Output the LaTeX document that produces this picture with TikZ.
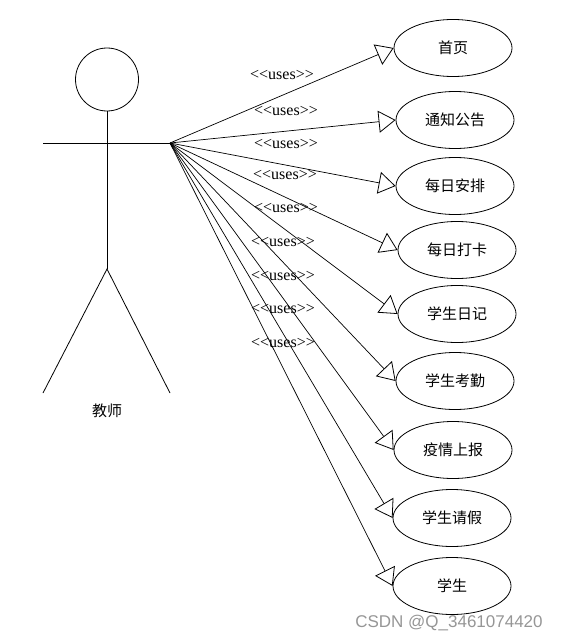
\documentclass[tikz,border=0pt]{standalone}
\usepackage{fontspec}
\setmainfont{Liberation Serif}
\newfontfamily\cjk{Noto Sans CJK SC}
\newfontfamily\wmfont{Liberation Sans}
\usetikzlibrary{arrows.meta,shapes.geometric}
\definecolor{wmgray}{RGB}{150,150,150}
\tikzset{
  usecase/.style={draw, ellipse, line width=0.8pt, minimum width=118pt, minimum height=57pt, inner sep=0pt, font=\cjk\fontsize{15}{17}\selectfont},
  uses/.style={line width=0.7pt, -{Triangle[open, length=17pt, width=22pt, line width=0.8pt]}},
  useslbl/.style={font=\fontsize{16}{18}\selectfont, inner sep=0pt},
  actorline/.style={line width=0.8pt}
}
\begin{document}
\begin{tikzpicture}[x=1pt,y=-1pt]
\useasboundingbox (0,0) rectangle (562,642);
% actor
\node[draw, circle, line width=0.8pt, minimum size=63pt, inner sep=0pt] (head) at (107,79.5) {};
\coordinate (hip) at (107,269);
\coordinate (lhand) at (43,143);
\coordinate (hand) at (170,143);
\coordinate (lfoot) at (43,393);
\coordinate (rfoot) at (170,393);
\draw[actorline] (head.south) -- (hip);
\draw[actorline] (lhand) -- (hand);
\draw[actorline] (lfoot) -- (hip) -- (rfoot);
\node[font=\cjk\fontsize{15}{17}\selectfont] (actorname) at (107,411) {教师};
% use cases
\node[usecase] (e1) at (453,48) {首页};
\node[usecase] (e2) at (455,120) {通知公告};
\node[usecase] (e3) at (455,186) {每日安排};
\node[usecase] (e4) at (457,250) {每日打卡};
\node[usecase] (e5) at (457,314) {学生日记};
\node[usecase] (e6) at (455,381) {学生考勤};
\node[usecase] (e7) at (453,450) {疫情上报};
\node[usecase] (e8) at (452,518) {学生请假};
\node[usecase] (e9) at (452,586) {学生};
\foreach \i in {1,...,9}{
  \draw[uses] (hand) -- (e\i.west);
}
% labels
\node[useslbl] (l1) at (282,75) {<{}<uses>{}>};
\node[useslbl] (l2) at (286,111) {<{}<uses>{}>};
\node[useslbl] (l3) at (286,144) {<{}<uses>{}>};
\node[useslbl] (l4) at (285,175) {<{}<uses>{}>};
\node[useslbl] (l5) at (286,208) {<{}<uses>{}>};
\node[useslbl] (l6) at (283,242) {<{}<uses>{}>};
\node[useslbl] (l7) at (283,276) {<{}<uses>{}>};
\node[useslbl] (l8) at (283,309) {<{}<uses>{}>};
\node[useslbl] (l9) at (283,343) {<{}<uses>{}>};
% watermark
\node[font=\wmfont\fontsize{17}{19}\selectfont, text=wmgray, inner sep=0pt] (wm) at (449,623) {CSDN @Q\_3461074420};
\end{tikzpicture}
\end{document}
